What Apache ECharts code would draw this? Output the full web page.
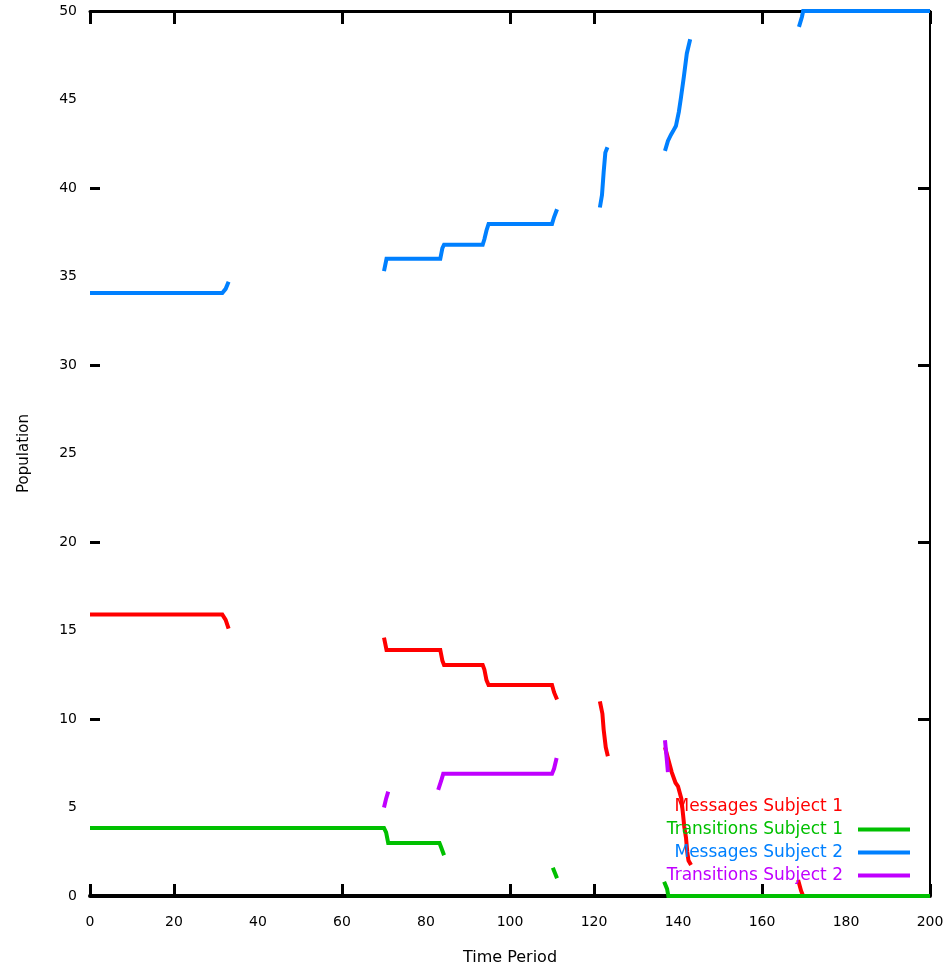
<!DOCTYPE html>
<html>
<head>
<meta charset="utf-8">
<script src="https://cdn.jsdelivr.net/npm/echarts@6/dist/echarts.min.js"></script>
<style>
html,body{margin:0;padding:0;background:#fff;}
#chart{width:949px;height:964px;}
</style>
</head>
<body>
<div id="chart"></div>
<script>
// ---- data (null = gap in the line) ----
const seriesNames = ['Messages Subject 1', 'Transitions Subject 1', 'Messages Subject 2', 'Transitions Subject 2'];
const xTicks = [0, 20, 40, 60, 80, 100, 120, 140, 160, 180, 200];
const yTicks = [0, 5, 10, 15, 20, 25, 30, 35, 40, 45, 50];
const xTickMarks = [0, 20, 60, 100, 120, 160, 200];
const yTickMarks = [0, 10, 20, 30, 40, 50];

const redData = [
  [0, 15.9], [31.5, 15.9], [32.3, 15.6], [33.0, 15.1], null,
  [70.0, 14.6], [70.6, 13.9], [83.4, 13.9], [83.9, 13.3], [84.3, 13.05], [93.5, 13.05], [93.9, 12.8], [94.4, 12.2], [94.9, 11.92],
  [110.0, 11.92], [110.5, 11.5], [111.2, 11.1], null,
  [121.4, 11.0], [122.0, 10.3], [122.3, 9.4], [122.8, 8.4], [123.3, 7.9], null,
  [136.9, 8.4], [137.6, 7.8], [138.5, 7.0], [139.4, 6.4], [140.0, 6.2], [140.8, 5.5], [141.2, 4.6], [141.5, 3.9], [141.9, 3.3],
  [142.2, 2.5], [142.5, 2.0], [143.1, 1.75], null,
  [168.6, 0.9], [169.3, 0.3], [169.8, 0], [200, 0]
];
const greenData = [
  [0, 3.84], [70.0, 3.84], [70.5, 3.6], [71.0, 3.0], [83.2, 3.0], [83.6, 2.75], [84.3, 2.3], null,
  [110.2, 1.6], [110.7, 1.3], [111.2, 1.0], null,
  [136.7, 0.8], [137.4, 0.4], [137.7, 0], [200, 0]
];
const blueData = [
  [0, 34.07], [31.5, 34.07], [32.3, 34.3], [33.0, 34.7], null,
  [70.0, 35.3], [70.6, 36.0], [83.4, 36.0], [83.9, 36.6], [84.3, 36.8], [93.5, 36.8], [93.9, 37.1], [94.4, 37.6], [94.9, 37.97],
  [110.0, 37.97], [110.5, 38.36], [111.2, 38.8], null,
  [121.4, 38.9], [121.9, 39.6], [122.3, 40.9], [122.7, 42.0], [123.2, 42.3], null,
  [136.9, 42.1], [137.6, 42.66], [138.3, 43.0], [138.8, 43.2], [139.5, 43.5], [140.2, 44.3], [140.7, 45.1], [141.4, 46.3],
  [142.1, 47.6], [142.9, 48.4], null,
  [168.8, 49.1], [169.5, 49.66], [169.8, 50], [200, 50]
];
const purpleData = [
  [70.0, 5.0], [70.5, 5.5], [71.0, 5.9], null,
  [82.9, 6.0], [83.6, 6.5], [84.1, 6.9], [110.0, 6.9], [110.5, 7.2], [111.1, 7.8], null,
  [136.9, 8.8], [137.3, 7.8], [137.6, 7.0]
];

const colors = ['#ff0000', '#00c000', '#0080ff', '#c000ff'];
const dataSets = [redData, greenData, blueData, purpleData];

function toSeriesData(arr) {
  return arr.map(p => p === null ? ['-', '-'] : p);
}

const chart = echarts.init(document.getElementById('chart'), null, {renderer: 'canvas'});
const FONT = 'DejaVu Sans';

const option = {
  animation: false,
  backgroundColor: '#ffffff',
  grid: {left: 90, right: 19, top: 11, bottom: 68, containLabel: false, outerBoundsMode: 'none'},
  legend: {
    orient: 'vertical',
    right: 34,
    top: 793,
    align: 'right',
    itemWidth: 52,
    itemHeight: 4,
    itemGap: 6,
    icon: 'rect',
    selectedMode: false,
    textStyle: {fontFamily: FONT, fontSize: 17, lineHeight: 17, padding: [0, 10, 0, 0]},
    data: seriesNames.map((n, i) => ({
      name: n,
      itemStyle: i === 0 ? {opacity: 0} : {color: colors[i]},
      textStyle: {color: colors[i]}
    }))
  },
  xAxis: [{
    type: 'value', min: 0, max: 200, interval: 20,
    name: 'Time Period', nameLocation: 'middle', nameGap: 54,
    nameTextStyle: {fontFamily: FONT, fontSize: 16, color: '#000'},
    axisLine: {show: true, onZero: false, lineStyle: {color: '#000', width: 4}},
    axisTick: {show: true, inside: true, length: 12, customValues: xTickMarks, lineStyle: {color: '#000', width: 3}},
    axisLabel: {show: true, margin: 19, fontFamily: FONT, fontSize: 14, color: '#000',
      formatter: v => xTicks.includes(v) ? String(v) : ''},
    splitLine: {show: false}
  }, {
    type: 'value', min: 0, max: 200, interval: 20, position: 'top',
    axisLine: {show: true, onZero: false, lineStyle: {color: '#000', width: 3}},
    axisTick: {show: true, inside: true, length: 13, customValues: xTickMarks, lineStyle: {color: '#000', width: 3}},
    axisLabel: {show: false}, splitLine: {show: false}
  }],
  yAxis: [{
    type: 'value', min: 0, max: 50, interval: 5,
    name: 'Population', nameLocation: 'middle', nameGap: 58, nameRotate: 90,
    nameTextStyle: {fontFamily: FONT, fontSize: 15, color: '#000'},
    axisLine: {show: false},
    axisTick: {show: true, inside: true, length: 10, customValues: yTickMarks, lineStyle: {color: '#000', width: 3}},
    axisLabel: {show: true, margin: 13, fontFamily: FONT, fontSize: 14, color: '#000',
      formatter: v => yTicks.includes(v) ? String(v) : ''},
    splitLine: {show: false}
  }, {
    type: 'value', min: 0, max: 50, interval: 5, position: 'right',
    axisLine: {show: true, onZero: false, lineStyle: {color: '#000', width: 2}},
    axisTick: {show: true, inside: true, length: 12, customValues: yTickMarks, lineStyle: {color: '#000', width: 3}},
    axisLabel: {show: false}, splitLine: {show: false}
  }],
  series: dataSets.map((d, i) => ({
    name: seriesNames[i],
    type: 'line',
    xAxisIndex: 0, yAxisIndex: 0,
    data: toSeriesData(d),
    showSymbol: false,
    symbol: 'none',
    connectNulls: false,
    clip: false,
    lineStyle: {color: colors[i], width: 4, cap: 'butt', join: 'miter'},
    itemStyle: {color: colors[i]},
    z: 3 + i
  }))
};
chart.setOption(option);
</script>
</body>
</html>
